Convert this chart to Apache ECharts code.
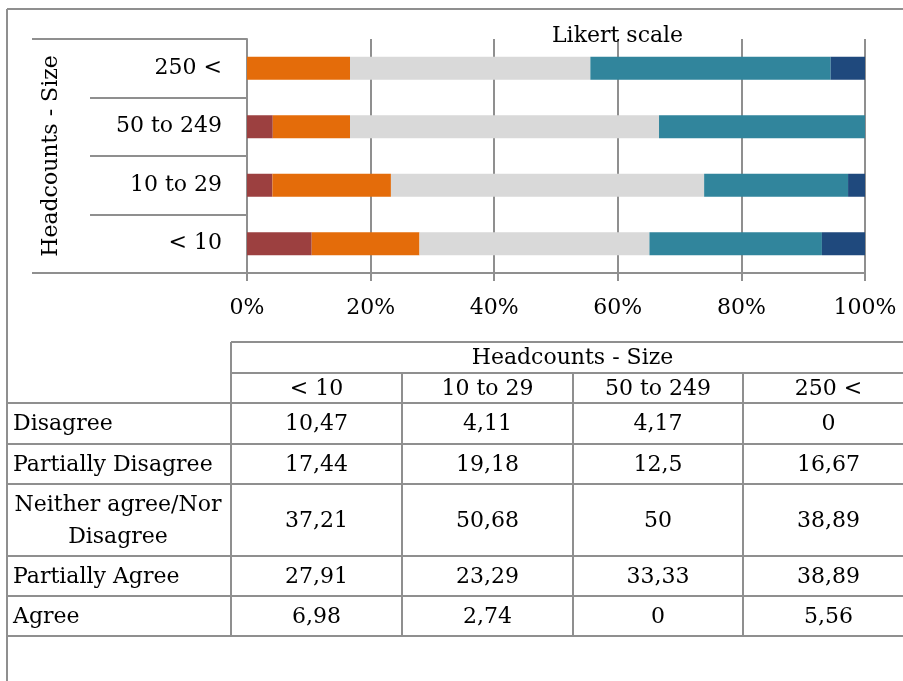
<!DOCTYPE html>
<html>
<head>
<meta charset="utf-8">
<script src="https://cdn.jsdelivr.net/npm/echarts@6/dist/echarts.min.js"></script>
<style>
  html, body { margin: 0; padding: 0; background: #fff; }
  #main { width: 903px; height: 681px; }
</style>
</head>
<body>
<div id="main"></div>
<script>
// size groups, bottom to top on the chart, left to right in the table
var sizes = ['< 10', '10 to 29', '50 to 249', '250 <']
var levels = ['Disagree', 'Partially Disagree', 'Neither agree/Nor Disagree', 'Partially Agree', 'Agree']
var levelLabels = ['Disagree', 'Partially Disagree', 'Neither agree/Nor\nDisagree', 'Partially Agree', 'Agree']
var disagree = [10.47, 4.11, 4.17, 0]
var partDisagree = [17.44, 19.18, 12.5, 16.67]
var neither = [37.21, 50.68, 50, 38.89]
var partAgree = [27.91, 23.29, 33.33, 38.89]
var agree = [6.98, 2.74, 0, 5.56]
var xTicks = [0, 20, 40, 60, 80, 100]

var values = [disagree, partDisagree, neither, partAgree, agree]
var colors = ['#9c4040', '#e46c0a', '#d9d9d9', '#31859c', '#1f497d']
var font = 'DejaVu Serif'
var fs = 22
var lineCol = '#8f8f8f'

var chart = echarts.init(document.getElementById('main'))

var series = []
for (var i = 0; i < levels.length; i++) {
  series.push({
    name: levels[i],
    type: 'bar',
    stack: 'all',
    barWidth: 23,
    itemStyle: { color: colors[i] },
    data: values[i]
  })
}

// table, drawn with graphic lines + texts
var gfx = []
function hline(x1, x2, y) {
  gfx.push({ type: 'line', shape: { x1: x1, y1: y, x2: x2, y2: y }, style: { stroke: lineCol, lineWidth: 2 }, silent: true })
}
function vline(x, y1, y2) {
  gfx.push({ type: 'line', shape: { x1: x, y1: y1, x2: x, y2: y2 }, style: { stroke: lineCol, lineWidth: 2 }, silent: true })
}
function txt(s, x, y, align) {
  gfx.push({ type: 'text', x: x, y: y, silent: true,
    style: { text: s, font: fs + 'px "' + font + '"', fill: '#000', align: align, verticalAlign: 'middle', lineHeight: 32 } })
}

// outer frame
hline(7, 903, 9)
vline(7, 9, 681)
// category separators extended for the outer level
hline(32, 90, 39)
hline(32, 90, 273)

var colX = [231, 402, 573, 743, 914]
var rowY = [403, 444, 484, 556, 596, 636]
hline(231, 914, 342)
hline(231, 914, 373)
for (var r = 0; r < rowY.length; r++) hline(7, 914, rowY[r])
vline(231, 342, 636)
for (var c = 1; c < colX.length; c++) vline(colX[c], 373, 636)

txt('Headcounts - Size', (colX[0] + colX[4]) / 2, 358, 'center')
for (var c = 0; c < sizes.length; c++) {
  txt(sizes[c], (colX[c] + colX[c + 1]) / 2, 389, 'center')
}
for (var r = 0; r < levels.length; r++) {
  var cy = (rowY[r] + rowY[r + 1]) / 2 + 1
  if (levelLabels[r].indexOf('\n') >= 0) txt(levelLabels[r], 118, cy, 'center')
  else txt(levelLabels[r], 13, cy, 'left')
  for (var c = 0; c < sizes.length; c++) {
    txt(String(values[r][c]).replace('.', ','), (colX[c] + colX[c + 1]) / 2, cy, 'center')
  }
}

var option = {
  animation: false,
  backgroundColor: '#fff',
  textStyle: { fontFamily: font },
  title: {
    text: 'Likert scale',
    left: 552,
    top: 25,
    padding: 0,
    textStyle: { fontFamily: font, fontSize: fs, fontWeight: 'normal', color: '#000' }
  },
  grid: { left: 247, right: 38, top: 39, bottom: 408, containLabel: false },
  xAxis: {
    type: 'value',
    min: xTicks[0],
    max: xTicks[xTicks.length - 1],
    interval: xTicks[1] - xTicks[0],
    axisLine: { show: true, lineStyle: { color: lineCol, width: 2 } },
    axisTick: { show: true, length: 8, lineStyle: { color: lineCol, width: 2 } },
    splitLine: { show: true, lineStyle: { color: lineCol, width: 2 } },
    axisLabel: { formatter: '{value}%', margin: 24, fontFamily: font, fontSize: fs, color: '#000' }
  },
  yAxis: {
    type: 'category',
    data: sizes,
    name: 'Headcounts - Size',
    nameLocation: 'middle',
    nameRotate: 90,
    nameGap: 185,
    nameTextStyle: { fontFamily: font, fontSize: fs, color: '#000' },
    axisLine: { show: true, lineStyle: { color: lineCol, width: 2 } },
    axisTick: { show: true, length: 157, lineStyle: { color: lineCol, width: 2 } },
    axisLabel: { margin: 25, fontFamily: font, fontSize: fs, color: '#000' }
  },
  series: series,
  graphic: gfx
}
chart.setOption(option)
</script>
</body>
</html>
